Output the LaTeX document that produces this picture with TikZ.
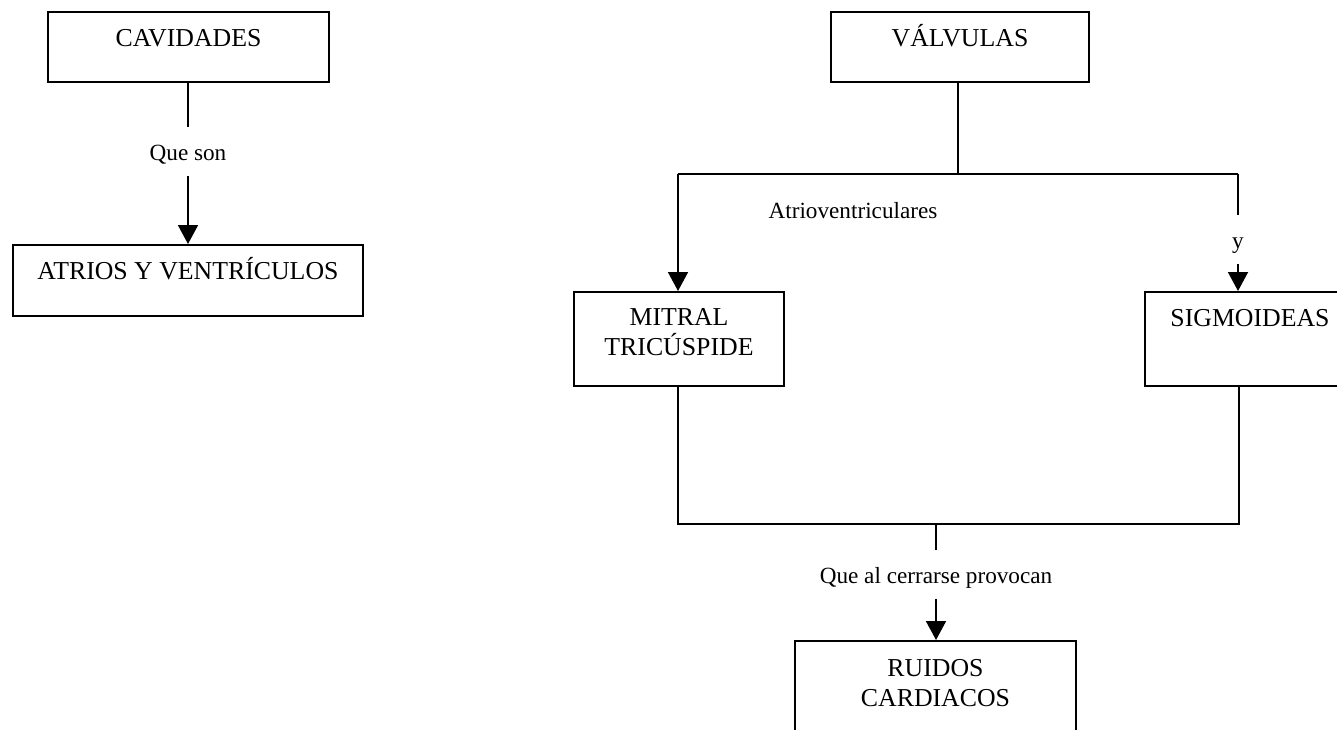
\documentclass[tikz,border=0pt]{standalone}
\usepackage{fontspec}
\setmainfont{Liberation Serif}
\usetikzlibrary{arrows.meta}

% two centred lines, baseline on the first one
\newcommand{\twolines}[2]{\vtop{\baselineskip=30pt\halign{\hfil##\hfil\cr #1\cr #2\cr}}}

\begin{document}
\begin{tikzpicture}[x=1pt,y=-1pt,
  every path/.style={line width=1.8pt},
  conceptbox/.style={draw, line width=1.8pt, inner sep=0pt, anchor=north,
    font=\fontsize{25.8}{30}\selectfont},
  onebox/.style={conceptbox, text height=35pt, text depth=35pt},
  twobox/.style={conceptbox, text height=34pt, text depth=60pt},
  linklabel/.style={inner sep=0pt, anchor=north, text height=33pt, text depth=14pt,
    font=\fontsize{23.2}{27}\selectfont},
  freelabel/.style={inner sep=0pt, anchor=base, font=\fontsize{23.2}{27}\selectfont},
  arrowline/.style={-{Triangle[width=20pt,length=19pt]}}
]
\useasboundingbox (0,0) rectangle (1337,730);

% left branch: cavities
\node[onebox, minimum width=281pt] (cav) at (188.5,11) {CAVIDADES};
\node[linklabel] (qs) at (188,127) {Que son};
\node[onebox, minimum width=350pt, text depth=36pt] (atr) at (188,244) {ATRIOS Y VENTRÍCULOS};
\draw (cav.south -| qs.north) -- (qs.north);
\draw[arrowline] (qs.south) -- (qs.south |- atr.north);

% right branch: valves
\node[onebox, minimum width=258pt] (val) at (960,11) {VÁLVULAS};
\node[twobox, minimum width=210pt] (mit) at (679,291) {\twolines{MITRAL}{TRICÚSPIDE}};
\node[twobox, minimum width=210pt, text height=35pt, text depth=59pt] (sig) at (1250,291) {SIGMOIDEAS};
\node[freelabel] (atv) at (853,218) {Atrioventriculares};
\node[linklabel] (ylab) at (1238,215) {y};

\coordinate (vj) at (958,174);
\coordinate (lj) at (678,174);
\coordinate (rj) at (1238,174);
\draw (vj |- val.south) -- (vj);
\draw (lj) -- (rj);
\draw[arrowline] (lj) -- (lj |- mit.north);
\draw (rj) -- (ylab.north);
\draw[arrowline] (ylab.south) -- (ylab.south |- sig.north);

% joining both valve groups
\coordinate (bl) at (678,524);
\coordinate (br) at (1239,524);
\coordinate (bm) at (936,524);
\draw (bl |- mit.south) -- (bl) -- (br) -- (br |- sig.south);
\node[linklabel] (qa) at (936,550) {Que al cerrarse provocan};
\draw (bm) -- (qa.north);
\node[twobox, minimum width=281pt, text height=36pt] (rui) at (935.5,640) {\twolines{RUIDOS}{CARDIACOS}};
\draw[arrowline] (qa.south) -- (qa.south |- rui.north);
\end{tikzpicture}
\end{document}
